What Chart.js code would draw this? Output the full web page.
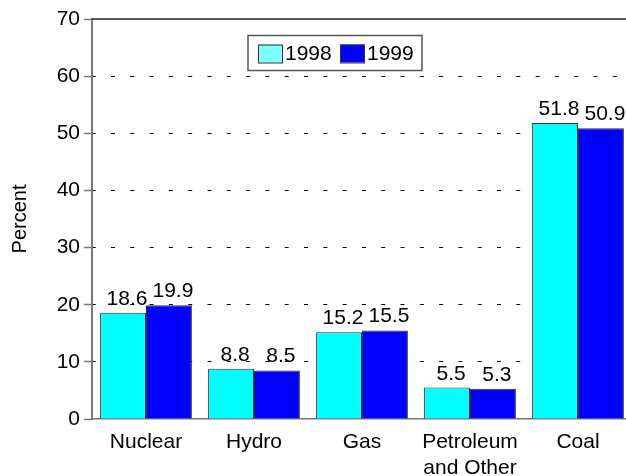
<!DOCTYPE html>
<html>
<head>
<meta charset="utf-8">
<script src="https://cdn.jsdelivr.net/npm/chart.js@4.4.1/dist/chart.umd.min.js"></script>
<style>
    html, body { margin: 0; padding: 0; background: #fff; overflow: hidden; }
    #wrap { width: 640px; height: 476px; position: relative; }
</style>
</head>
<body>
<div id="wrap"><canvas id="chart"></canvas></div>
<script>
// Chart data
const categories = ['Nuclear', 'Hydro', 'Gas', ['Petroleum', 'and Other'], 'Coal'];
const seriesLabels = ['1998', '1999'];
const values1998 = [18.6, 8.8, 15.2, 5.5, 51.8];
const values1999 = [19.9, 8.5, 15.5, 5.3, 50.9];
const yMin = 0;
const yMax = 70;
const yStep = 10;

const FONT = 'Arial, "Liberation Sans", sans-serif';

/**
 * Value labels above each bar
 */
const valueLabels = {
    id: 'valueLabels',
    afterDatasetsDraw(chart) {
        const ctx = chart.ctx;
        ctx.save();
        ctx.font = '21px ' + FONT;
        ctx.fillStyle = '#000';
        ctx.textAlign = 'center';
        ctx.textBaseline = 'alphabetic';
        chart.data.datasets.forEach((ds, i) => {
            chart.getDatasetMeta(i).data.forEach((bar, j) => {
                ctx.fillText(ds.data[j].toFixed(1), bar.x + 4, bar.y - 8);
            });
        });
        ctx.restore();
    }
};

/**
 * Top frame line and boxed legend inside the plot
 */
const frameAndLegend = {
    id: 'frameAndLegend',
    afterDraw(chart) {
        const ctx = chart.ctx;
        const area = chart.chartArea;
        ctx.save();

        // top border
        ctx.strokeStyle = '#222';
        ctx.lineWidth = 1.5;
        ctx.beginPath();
        ctx.moveTo(area.left, area.top);
        ctx.lineTo(area.right, area.top);
        ctx.stroke();

        // legend box
        const bx = area.left + 156;
        const by = area.top + 16.5;
        const bw = 174;
        const bh = 35;
        ctx.fillStyle = '#fff';
        ctx.fillRect(bx, by, bw, bh);
        ctx.strokeStyle = '#555';
        ctx.lineWidth = 1.5;
        ctx.strokeRect(bx, by, bw, bh);

        ctx.font = '21px ' + FONT;
        ctx.textBaseline = 'middle';
        ctx.textAlign = 'left';
        let x = bx + 10;
        chart.data.datasets.forEach((ds) => {
            ctx.fillStyle = ds.legendColor;
            ctx.fillRect(x, by + 9, 24, 18);
            ctx.strokeStyle = '#333';
            ctx.lineWidth = 1;
            ctx.strokeRect(x + 0.5, by + 9.5, 24, 18);
            ctx.fillStyle = '#000';
            ctx.fillText(ds.label, x + 27, by + bh / 2 + 1);
            x += 82;
        });
        ctx.restore();
    }
};

const ctx = document.getElementById('chart').getContext('2d');
new Chart(ctx, {
    type: 'bar',
    data: {
        labels: categories,
        datasets: [
            {
                label: seriesLabels[0],
                data: values1998,
                backgroundColor: '#00ffff',
                legendColor: '#80ffff',
                borderColor: '#333',
                borderWidth: 1
            },
            {
                label: seriesLabels[1],
                data: values1999,
                backgroundColor: '#0000ff',
                legendColor: '#0000ff',
                borderColor: '#333',
                borderWidth: 1
            }
        ]
    },
    options: {
        responsive: true,
        maintainAspectRatio: false,
        animation: false,
        layout: {
            padding: { top: 19, right: 8, left: 0, bottom: 0 }
        },
        datasets: {
            bar: {
                categoryPercentage: 0.85,
                barPercentage: 1.0
            }
        },
        plugins: {
            legend: { display: false },
            tooltip: { enabled: false }
        },
        scales: {
            x: {
                grid: { display: false, drawTicks: false },
                border: { color: '#777', width: 1.5 },
                ticks: {
                    color: '#000',
                    font: { family: FONT, size: 21, lineHeight: 1.2 },
                    padding: 11,
                    maxRotation: 0
                },
                afterFit(scale) { scale.height = 57; }
            },
            y: {
                min: yMin,
                max: yMax,
                ticks: {
                    stepSize: yStep,
                    color: '#000',
                    font: { family: FONT, size: 21 },
                    padding: 4
                },
                grid: {
                    color: (c) => (c.tick && (c.tick.value === yMax || c.tick.value === yMin)) ? 'rgba(0,0,0,0)' : '#000',
                    lineWidth: 1,
                    tickColor: '#777',
                    tickLength: 8,
                    tickWidth: 1.5
                },
                border: { color: '#777', width: 2, dash: [4, 15.3], dashOffset: 1.3 },
                title: {
                    display: true,
                    text: 'Percent',
                    color: '#000',
                    font: { family: FONT, size: 20 },
                    padding: { top: 8, bottom: 0 }
                },
                afterFit(scale) { scale.width = 92; }
            }
        }
    },
    plugins: [valueLabels, frameAndLegend]
});
</script>
</body>
</html>
